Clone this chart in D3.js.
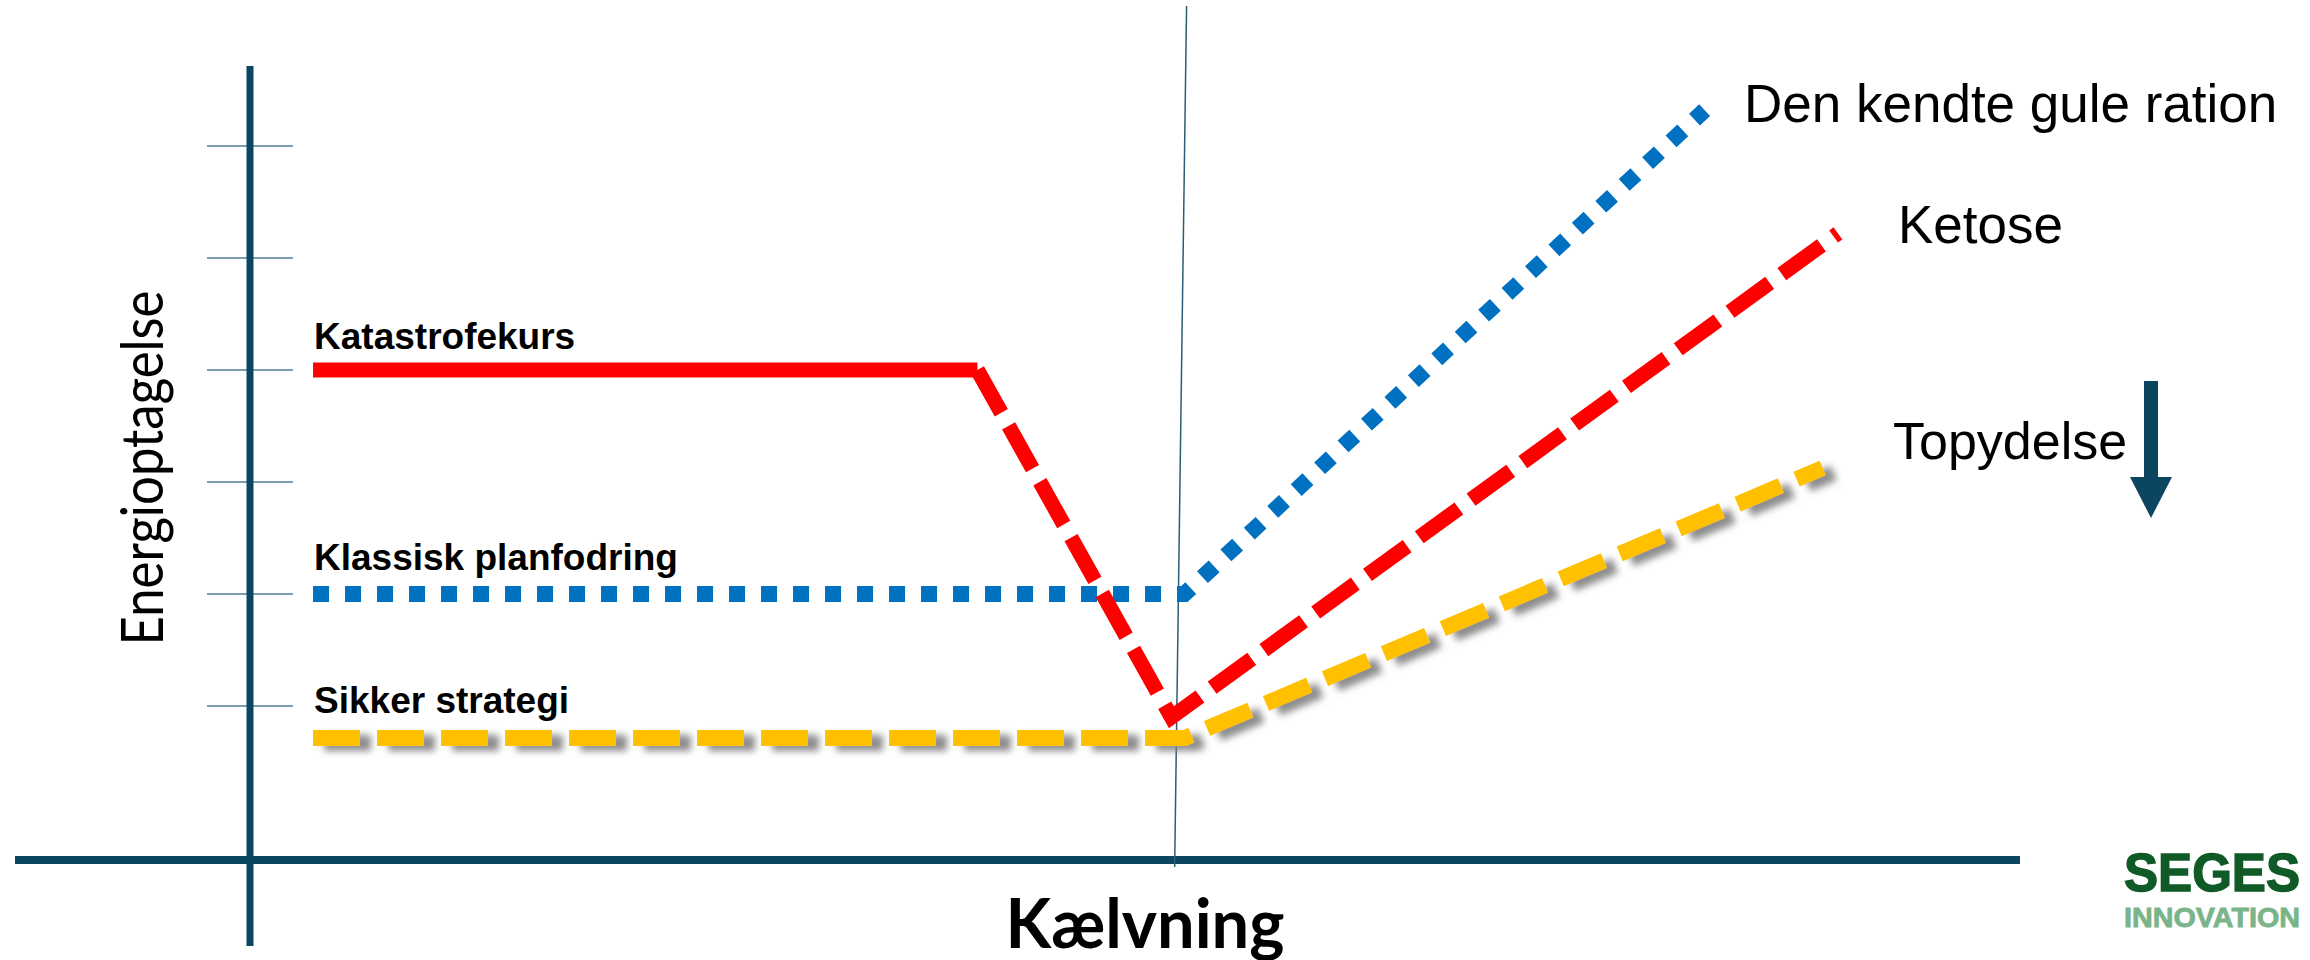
<!DOCTYPE html>
<html>
<head>
<meta charset="utf-8">
<script src="https://cdn.jsdelivr.net/npm/d3@7"></script>
<style>
  html, body { margin: 0; padding: 0; background: #ffffff; }
  svg { display: block; }
</style>
</head>
<body>
<div id="chart"></div>
<script>
// ---- data (x: weeks relative to calving, y: relative energy intake) ----
const yTicks = [1, 2, 3, 4, 5, 6];

const redSolidX = [-8, -1.87];
const redSolidY = [4, 4];
const redDashX = [-1.87, -0.08, 6.07];
const redDashY = [4, 0.9, 5.22];

const blueX = [-8, 0.04, 4.84];
const blueY = [2, 2, 6.32];

const yellowX = [-8, 0.04, 5.93];
const yellowY = [0.714, 0.714, 3.125];

const leftLabels = ["Katastrofekurs", "Klassisk planfodring", "Sikker strategi"];
const leftLabelValues = [4, 2, 0.714];
const rightLabels = ["Den kendte gule ration", "Ketose", "Topydelse"];
const xTitle = "Kælvning";
const yTitle = "Energioptagelse";
const logoTop = "SEGES";
const logoBottom = "INNOVATION";

// ---- layout ----
const W = 2310, H = 960;
const darkTeal = "#0b4560";

const x = d3.scaleLinear().domain([-10.75, 7.75]).range([15, 2020]);
const y = d3.scaleLinear().domain([-0.375, 6]).range([860, 146]);

const svg = d3.select("#chart").append("svg")
  .attr("width", W).attr("height", H)
  .attr("viewBox", `0 0 ${W} ${H}`);

svg.append("rect").attr("width", W).attr("height", H).attr("fill", "#ffffff");

const defs = svg.append("defs");
const f = defs.append("filter").attr("id", "shadow")
  .attr("x", "-10%").attr("y", "-50%").attr("width", "120%").attr("height", "200%");
f.append("feDropShadow").attr("dx", 11).attr("dy", 5).attr("stdDeviation", 3.5)
  .attr("flood-color", "#808080").attr("flood-opacity", 0.9);

// ticks on y axis
svg.append("g").selectAll("line").data(yTicks).join("line")
  .attr("x1", 207).attr("x2", 293)
  .attr("y1", d => y(d)).attr("y2", d => y(d))
  .attr("stroke", "#4f7f95").attr("stroke-width", 1.5);

// y axis line
svg.append("line")
  .attr("x1", 250).attr("x2", 250).attr("y1", 66).attr("y2", 946)
  .attr("stroke", darkTeal).attr("stroke-width", 7);

// x axis line
svg.append("line")
  .attr("x1", x.range()[0]).attr("x2", x.range()[1])
  .attr("y1", y(-0.375)).attr("y2", y(-0.375))
  .attr("stroke", darkTeal).attr("stroke-width", 8);

// calving marker line (slightly slanted)
svg.append("line")
  .attr("x1", x(0.06)).attr("y1", 6)
  .attr("x2", x(-0.05)).attr("y2", 867)
  .attr("stroke", "#2c5d75").attr("stroke-width", 1.5);

const line = d3.line().x(d => x(d[0])).y(d => y(d[1]));
const pts = (xs, ys) => xs.map((v, i) => [v, ys[i]]);

// yellow (with shadow)
svg.append("path")
  .attr("d", line(pts(yellowX, yellowY)))
  .attr("fill", "none").attr("stroke", "#FFC000").attr("stroke-width", 16)
  .attr("stroke-dasharray", "47,17").attr("stroke-linejoin", "round")
  .attr("filter", "url(#shadow)");

// blue dotted
svg.append("path")
  .attr("d", line(pts(blueX, blueY)))
  .attr("fill", "none").attr("stroke", "#0070C0").attr("stroke-width", 16)
  .attr("stroke-dasharray", "16,16").attr("stroke-linejoin", "miter");

// red solid part
svg.append("path")
  .attr("d", line(pts(redSolidX, redSolidY)))
  .attr("fill", "none").attr("stroke", "#FF0000").attr("stroke-width", 15);

// red dashed part
svg.append("path")
  .attr("d", line(pts(redDashX, redDashY)))
  .attr("fill", "none").attr("stroke", "#FF0000").attr("stroke-width", 15)
  .attr("stroke-dasharray", "49,15").attr("stroke-linejoin", "miter");

// left labels
const leftOffsets = [-21, -24, -25];
svg.append("g").selectAll("text").data(leftLabels).join("text")
  .attr("x", x(-8) + 1)
  .attr("y", (d, i) => y(leftLabelValues[i]) + leftOffsets[i])
  .attr("font-family", "'Liberation Sans', Arial, sans-serif")
  .attr("font-weight", "bold").attr("font-size", 37)
  .attr("fill", "#000").text(d => d);

// right labels
const rightPos = [[1744, 122, 53], [1898, 243, 53], [1893, 459, 52]];
svg.append("g").selectAll("text").data(rightLabels).join("text")
  .attr("x", (d, i) => rightPos[i][0])
  .attr("y", (d, i) => rightPos[i][1])
  .attr("font-size", (d, i) => rightPos[i][2])
  .attr("font-family", "'Liberation Sans', Arial, sans-serif")
  .attr("fill", "#000").text(d => d);

// arrow (Topydelse down)
svg.append("rect").attr("x", 2144).attr("y", 381).attr("width", 14).attr("height", 97)
  .attr("fill", darkTeal);
svg.append("path").attr("d", "M2130,477 L2172,477 L2151,518 Z").attr("fill", darkTeal);

// x title
svg.append("text")
  .attr("x", 1145).attr("y", 948)
  .attr("text-anchor", "middle")
  .attr("font-family", "Lato, 'Open Sans', sans-serif")
  .attr("font-weight", "bold").attr("font-size", 68)
  .attr("textLength", 279).attr("lengthAdjust", "spacingAndGlyphs")
  .attr("fill", "#000").text(xTitle);

// y title
svg.append("text")
  .attr("transform", "translate(163,468) rotate(-90)")
  .attr("text-anchor", "middle")
  .attr("font-family", "Lato, 'Open Sans', sans-serif")
  .attr("font-size", 58)
  .attr("textLength", 355).attr("lengthAdjust", "spacingAndGlyphs")
  .attr("fill", "#000").text(yTitle);

// logo
svg.append("text")
  .attr("x", 2124).attr("y", 891)
  .attr("font-family", "'Liberation Sans', Arial, sans-serif")
  .attr("font-weight", "bold").attr("font-size", 54)
  .attr("textLength", 176).attr("lengthAdjust", "spacingAndGlyphs")
  .attr("stroke", "#0f5a26").attr("stroke-width", 1.5)
  .attr("fill", "#0f5a26").text(logoTop);
svg.append("text")
  .attr("x", 2124).attr("y", 927)
  .attr("font-family", "'Liberation Sans', Arial, sans-serif")
  .attr("font-weight", "bold").attr("font-size", 27)
  .attr("textLength", 176).attr("lengthAdjust", "spacingAndGlyphs")
  .attr("stroke", "#7ab48a").attr("stroke-width", 0.8)
  .attr("fill", "#7ab48a").text(logoBottom);
</script>
</body>
</html>
